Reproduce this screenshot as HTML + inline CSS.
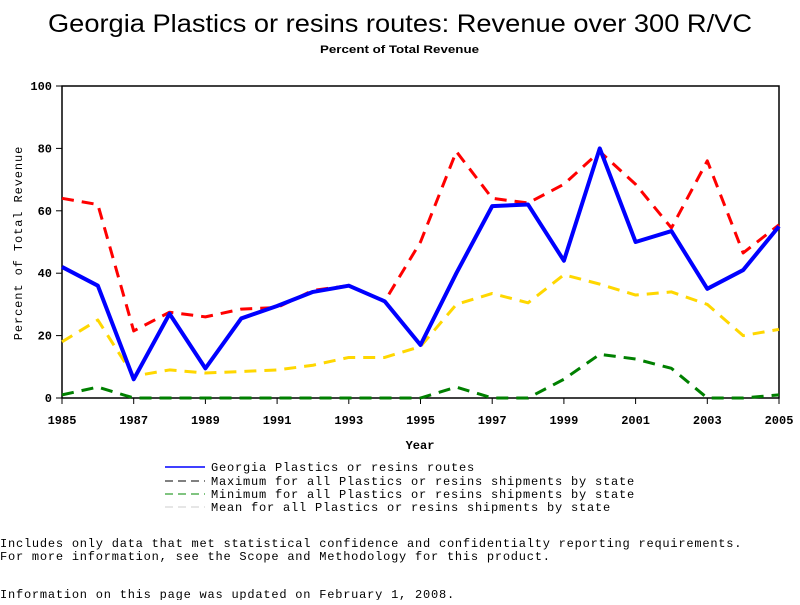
<!DOCTYPE html>
<html><head><meta charset="utf-8"><style>
body{margin:0;background:#fff;width:800px;height:600px;overflow:hidden}
svg text{font-family:"Liberation Mono",monospace}
</style></head><body>
<svg id="chart" width="800" height="600" xmlns="http://www.w3.org/2000/svg">
<text x="48" y="32" font-size="25" textLength="704" lengthAdjust="spacingAndGlyphs" style="font-family:'Liberation Sans',sans-serif">Georgia Plastics or resins routes: Revenue over 300 R/VC</text>
<text x="320" y="53" font-size="11" font-weight="bold" textLength="159" lengthAdjust="spacingAndGlyphs" style="font-family:'Liberation Sans',sans-serif">Percent of Total Revenue</text>
<rect x="62" y="86" width="717" height="312" fill="none" stroke="#000" stroke-width="1.5"/>
<g id="axes"></g>
<g id="series"></g>
<text x="420" y="449" text-anchor="middle" font-size="12" font-weight="bold">Year</text>
<text transform="translate(22,243) rotate(-90)" text-anchor="middle" font-size="12" letter-spacing="0.9">Percent of Total Revenue</text>
<g font-size="12" letter-spacing="0.8">
<line x1="165" y1="467" x2="205" y2="467" stroke="#00f" stroke-width="1.5"/>
<text x="211" y="471">Georgia Plastics or resins routes</text>
<line x1="165" y1="481" x2="205" y2="481" stroke="#000" stroke-dasharray="8,5"/>
<text x="211" y="485">Maximum for all Plastics or resins shipments by state</text>
<line x1="165" y1="494" x2="205" y2="494" stroke="#080" stroke-dasharray="8,5"/>
<text x="211" y="498">Minimum for all Plastics or resins shipments by state</text>
<line x1="165" y1="507" x2="205" y2="507" stroke="#ccc" stroke-dasharray="8,5"/>
<text x="211" y="511">Mean for all Plastics or resins shipments by state</text>
</g>
<g font-size="12" letter-spacing="0.78">
<text x="0" y="547">Includes only data that met statistical confidence and confidentialty reporting requirements.</text>
<text x="0" y="560">For more information, see the Scope and Methodology for this product.</text>
<text x="0" y="598">Information on this page was updated on February 1, 2008.</text>
</g>
</svg>
<script>
const years=[1985,1986,1987,1988,1989,1990,1991,1992,1993,1994,1995,1996,1997,1998,1999,2000,2001,2002,2003,2004,2005];
const georgia=[42,36,6,27,9.5,25.5,29.5,34,36,31,17,40,61.5,62,44,80,50,53.5,35,41,55];
const maxVals=[64,62,21.5,27.5,26,28.5,29,34.5,36,31,50,79,64,62.5,68.5,79,68.5,54.5,76,46.5,55.5];
const minVals=[1,3.5,0,0,0,0,0,0,0,0,0,3.5,0,0,6,14,12.5,9.5,0,0,1];
const meanVals=[18,25,7,9,8,8.5,9,10.5,13,13,16.5,30,33.5,30.5,39.5,36.5,33,34,30,20,22];
const yTicks=[0,20,40,60,80,100];
const xTicks=[1985,1987,1989,1991,1993,1995,1997,1999,2001,2003,2005];
const NS="http://www.w3.org/2000/svg";
const xs=y=>62+(y-1985)*(717/20);
const ys=v=>398-v*3.12;
const axes=document.getElementById('axes'),ser=document.getElementById('series');
function mk(tag,attrs,parent){const e=document.createElementNS(NS,tag);for(const k in attrs)e.setAttribute(k,attrs[k]);parent.appendChild(e);return e;}
yTicks.forEach(t=>{
  const l=mk('line',{x1:56,x2:62,y1:ys(t),y2:ys(t),stroke:'#000'},axes);
  
  
  const tx=mk('text',{x:52,y:ys(t)+4,'text-anchor':'end','font-size':12,'font-weight':'bold'},axes);
  tx.textContent=t;
  
  
});
xTicks.forEach(t=>{
  const l=mk('line',{x1:xs(t),x2:xs(t),y1:398,y2:404,stroke:'#000'},axes);
  
  
  const tx=mk('text',{x:xs(t),y:424,'text-anchor':'middle','font-size':12,'font-weight':'bold'},axes);
  tx.textContent=t;
  
  
});
function line(vals,color,w,dash,name){
  const p=mk('polyline',{points:vals.map((v,i)=>xs(years[i])+','+ys(v)).join(' '),fill:'none',stroke:color,'stroke-width':w,'stroke-linejoin':'round'},ser);
  if(dash)p.setAttribute('stroke-dasharray',dash);
  
  
}
line(meanVals,'#ffd700',3,'12,8','mean-line');
line(minVals,'#008000',3,'12,8','min-line');
line(maxVals,'#ff0000',3,'12,8','max-line');
line(georgia,'#0000ff',4,null,'georgia-line');
</script>
</body></html>
